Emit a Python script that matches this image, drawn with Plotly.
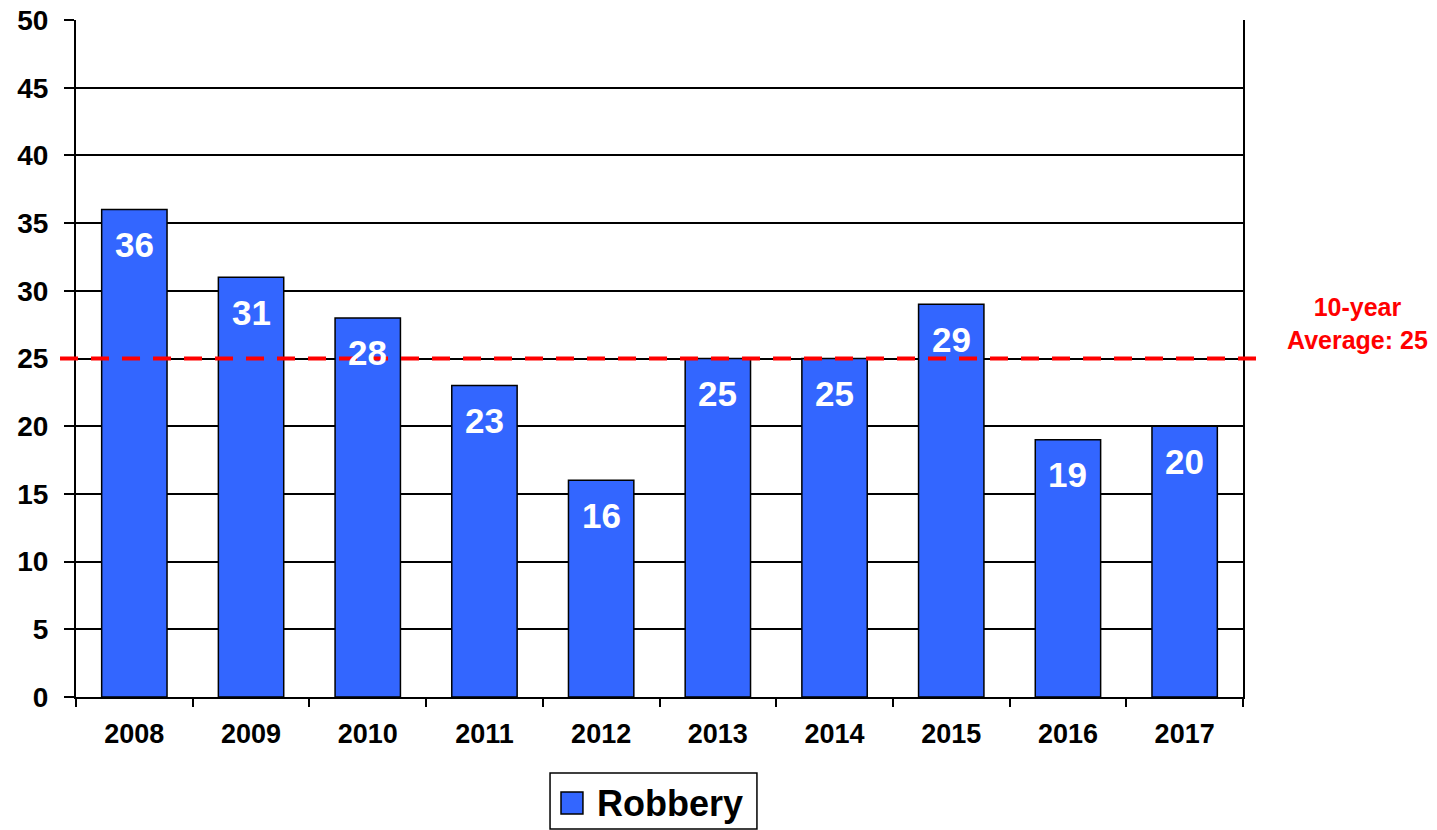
import plotly.graph_objects as go

years = ["2008", "2009", "2010", "2011", "2012", "2013", "2014", "2015", "2016", "2017"]
robbery = [36, 31, 28, 23, 16, 25, 25, 29, 19, 20]
series_name = "Robbery"
average = 25
y_ticks = [0, 5, 10, 15, 20, 25, 30, 35, 40, 45, 50]

FONT = "Liberation Sans, Arial"
BAR_COLOR = "#3366FF"

fig = go.Figure()
fig.add_trace(go.Bar(
    x=years, y=robbery, name=series_name, showlegend=False,
    marker=dict(color=BAR_COLOR, line=dict(color="black", width=1.5)),
    width=0.56,
))

for i, v in enumerate(robbery):
    fig.add_annotation(x=i, y=v, text=str(v), showarrow=False,
                       yanchor="middle", yshift=-35,
                       font=dict(family=FONT, size=35, color="white", weight="bold"))

fig.add_shape(type="line", xref="paper", yref="y", x0=-0.0137, x1=1.0163, y0=average, y1=average,
              line=dict(color="#FF0000", width=4, dash="18px,13px"), layer="above")

fig.add_annotation(xref="paper", yref="y", x=1.098, y=27.6, xanchor="center", yanchor="middle",
                   text="<b>10-year<br>Average: %d</b>" % average, showarrow=False,
                   font=dict(family=FONT, size=25, color="#FF0000"),
                   align="center")

# legend box (drawn so the swatch can match the reference size)
fig.add_shape(type="rect", xref="paper", yref="paper", x0=0.4062, x1=0.5835, y0=-0.1950, y1=-0.1123,
              line=dict(color="black", width=1.5), fillcolor="white")
fig.add_shape(type="rect", xref="paper", yref="paper", x0=0.4156, x1=0.4344, y0=-0.1728, y1=-0.1403,
              line=dict(color="black", width=1.5), fillcolor=BAR_COLOR)
fig.add_annotation(xref="paper", yref="paper", x=0.4447, y=-0.1566, xanchor="left", yanchor="middle",
                   text=series_name, showarrow=False,
                   font=dict(family=FONT, size=36, color="black", weight="bold"))

fig.update_layout(
    width=1429, height=822,
    margin=dict(l=68, r=194, t=12, b=133, autoexpand=False),
    plot_bgcolor="white", paper_bgcolor="white",
    font=dict(family=FONT, color="black"),
    showlegend=False,
)
fig.update_xaxes(
    type="category", range=[-0.5, 9.5], showline=True, linecolor="black", linewidth=2,
    ticks="outside", tickson="boundaries", ticklen=8, tickwidth=2, tickcolor="black",
    tickfont=dict(size=27, weight="bold"), ticklabelstandoff=12, tickangle=0,
    showgrid=False, automargin=False,
)
fig.update_yaxes(
    range=[0, 50], tickvals=y_ticks, showline=True, mirror=True, linecolor="black", linewidth=2,
    ticks="outside", ticklen=10, tickwidth=2, tickcolor="black",
    tickfont=dict(size=28, weight="bold"), ticklabelstandoff=10, ticklabeloverflow="allow",
    showgrid=True, gridcolor="black", gridwidth=1.5, zeroline=False, automargin=False,
)

fig.write_html("out.html")
